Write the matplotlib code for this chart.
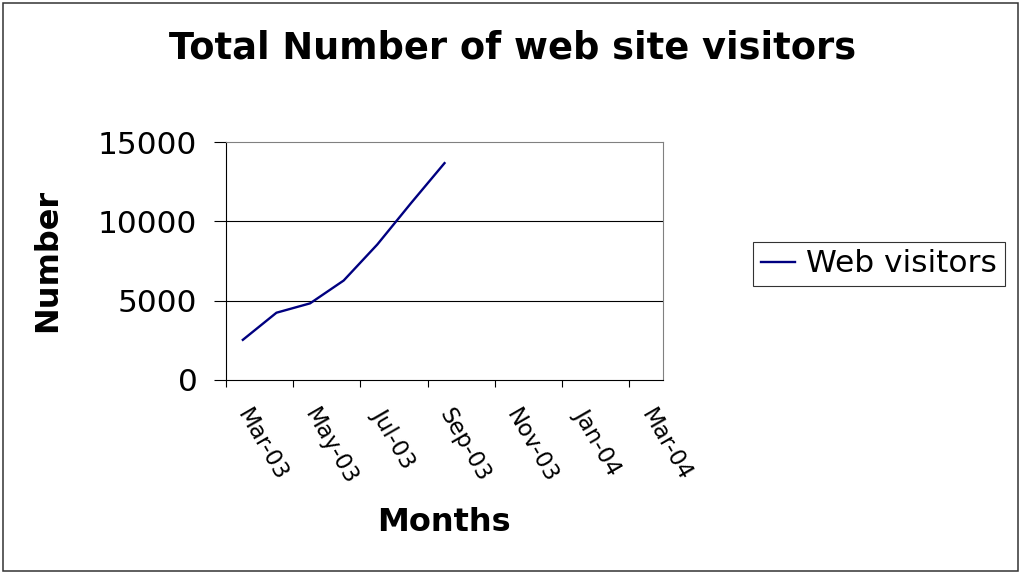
import matplotlib
matplotlib.use('Agg')
import matplotlib.pyplot as plt
from matplotlib.patches import Rectangle

# Datos del gráfico
months = ['Mar-03', 'Apr-03', 'May-03', 'Jun-03', 'Jul-03', 'Aug-03', 'Sep-03',
          'Oct-03', 'Nov-03', 'Dec-03', 'Jan-04', 'Feb-04', 'Mar-04']
visitors = [2530, 4240, 4830, 6270, 8540, 11140, 13670]
y_ticks = [0, 5000, 10000, 15000]

plt.rcParams['font.family'] = ['DejaVu Sans']

fig = plt.figure(figsize=(10.2, 5.72), dpi=100)
ax = fig.add_axes([0.2216, 0.3357, 0.4284, 0.4160])

x = list(range(len(visitors)))
ax.plot(x, visitors, color='#000080', lw=1.7, label='Web visitors')

ax.set_xlim(-0.5, len(months) - 0.5)
ax.set_ylim(0, 15000)

# Eje Y
ax.set_yticks(y_ticks)
ax.set_yticklabels([str(v) for v in y_ticks], fontsize=22.5)
ax.tick_params(axis='y', direction='out', length=8.6, width=0.8, pad=12)
for v in y_ticks[1:-1]:
    ax.axhline(v, color='black', lw=0.8, zorder=0)

# Eje X: marcas cada dos meses en los bordes, etiquetas en el centro
ax.set_xticks([i - 0.5 for i in range(0, len(months), 2)])
ax.set_xticklabels([])
ax.tick_params(axis='x', which='major', direction='out', length=5, width=0.8)
ax.set_xticks(list(range(0, len(months), 2)), minor=True)
ax.set_xticklabels(months[::2], minor=True, fontsize=16.5)
ax.tick_params(axis='x', which='minor', length=0, pad=22)
for lab in ax.get_xticklabels(minor=True):
    lab.set_rotation(-60)
    lab.set_ha('left')
    lab.set_va('center')
    lab.set_rotation_mode('anchor')

for s in ['left', 'bottom']:
    ax.spines[s].set_color('black')
    ax.spines[s].set_linewidth(0.8)
for s in ['top', 'right']:
    ax.spines[s].set_color('#808080')
    ax.spines[s].set_linewidth(0.8)

# Textos
fig.text(0.503, 0.8969, 'Total Number of web site visitors', ha='center', va='baseline',
         fontsize=26.5, fontweight='bold')
fig.text(0.047, 0.5455, 'Number', ha='center', va='center', rotation=90,
         fontsize=23, fontweight='bold')
fig.text(0.435, 0.0857, 'Months', ha='center', va='center', fontsize=23, fontweight='bold')

leg = ax.legend(loc='center left', bbox_to_anchor=(753 / 1020, 1 - 264 / 572),
                bbox_transform=fig.transFigure, fontsize=22.5, frameon=True,
                fancybox=False, shadow=False, handlelength=1.1, handletextpad=0.35,
                borderpad=0.25, borderaxespad=0)
leg.get_frame().set_edgecolor('black')
leg.get_frame().set_linewidth(0.8)

# Borde del gráfico completo
fig.patches.append(Rectangle((0.003, 0.002), 0.995, 0.993, transform=fig.transFigure,
                             fill=False, edgecolor='#333333', lw=1.1))

plt.savefig('out.png', dpi=100)
plt.close()
